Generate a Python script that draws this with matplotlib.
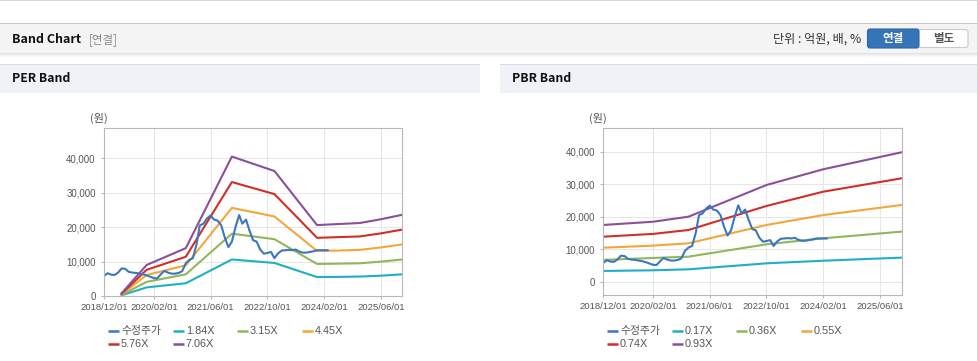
import matplotlib
matplotlib.use('Agg')
import matplotlib.pyplot as plt
from matplotlib.patches import Rectangle, FancyBboxPatch
from matplotlib.ticker import FuncFormatter
import pandas as pd

plt.rcParams['font.family'] = ['Liberation Sans', 'Noto Sans CJK KR']

# ---------------- data ----------------
price_label = '수정주가'
price_start = '2018-12-01'
price_values = [5800, 6600, 6200, 6100, 6800, 8000, 7900, 7000, 6800, 6700,
                6500, 6300, 6000, 5600, 5200, 5100, 6300, 7300, 6800, 6500,
                6500, 6700, 7200, 9500, 10500, 11000, 15000, 20500, 21000, 22500,
                23400, 22200, 21900, 20500, 17000, 14200, 15800, 20000, 23500, 21000,
                22200, 19000, 16200, 15800, 13500, 12300, 12500, 12800, 11000, 12400,
                13200, 13300, 13400, 13300, 13500, 12900, 12600, 12600, 12800, 13000,
                13300, 13300, 13300, 13300]

per_dates = ['2019-05-01', '2019-12-01', '2020-11-01', '2021-12-01', '2022-12-01',
             '2023-12-01', '2024-06-01', '2024-12-01', '2025-06-01', '2025-12-01']
per_labels = ['1.84X', '3.15X', '4.45X', '5.76X', '7.06X']
per_184 = [200, 2500, 3700, 10600, 9600, 5500, 5550, 5650, 5900, 6300]
per_315 = [350, 4100, 6300, 18100, 16500, 9300, 9400, 9500, 10000, 10600]
per_445 = [500, 6100, 8900, 25600, 23100, 13100, 13200, 13400, 14100, 15000]
per_576 = [650, 7600, 11400, 33100, 29600, 16900, 17100, 17300, 18200, 19300]
per_706 = [800, 9000, 13900, 40500, 36300, 20600, 20900, 21200, 22300, 23600]

pbr_dates = ['2018-12-01', '2020-02-01', '2020-12-01', '2022-10-01', '2024-02-01', '2025-12-01']
pbr_labels = ['0.17X', '0.36X', '0.55X', '0.74X', '0.93X']
pbr_017 = [3300, 3500, 3800, 5650, 6450, 7400]
pbr_036 = [6700, 7300, 7700, 11500, 13350, 15400]
pbr_055 = [10450, 11100, 11800, 17450, 20500, 23600]
pbr_074 = [13850, 14700, 15900, 23300, 27700, 31800]
pbr_093 = [17450, 18450, 20000, 29750, 34600, 39800]

x_tick_dates = ['2018-12-01', '2020-02-01', '2021-06-01', '2022-10-01', '2024-02-01', '2025-06-01']
x_tick_labels = ['2018/12/01', '2020/02/01', '2021/06/01', '2022/10/01', '2024/02/01', '2025/06/01']

colors = ['#3b76c0', '#1fb0c4', '#8fb85a', '#f3a73b', '#d22e28', '#8b4f9c']

# ---------------- figure ----------------
W, H = 978, 361
fig = plt.figure(figsize=(W / 100, H / 100), dpi=100)
fig.patch.set_facecolor('white')

bg = fig.add_axes([0, 0, 1, 1], zorder=0)
bg.set_xlim(0, W)
bg.set_ylim(H, 0)
bg.axis('off')

# top line
bg.add_patch(Rectangle((0, 0), W, 1.2, color='#d6d6d6', lw=0))
# header band with shadow
for i, c in enumerate(['#e2e2e2', '#ebebeb', '#f3f3f3', '#fafafa']):
    bg.add_patch(Rectangle((0, 53 + i), W, 1, color=c, lw=0))
bg.add_patch(Rectangle((0, 23), W, 30, color='#f4f4f4', lw=0))
bg.add_patch(Rectangle((0, 22.5), W, 1.2, color='#c8c8c8', lw=0))
bg.text(12, 39.5, 'Band Chart', fontsize=9.0, fontweight='bold', color='#111111',
        va='center', ha='left', family=['Noto Sans CJK KR'])
bg.text(89, 39.5, '[연결]', fontsize=8.3, color='#8a8a8a', va='center', ha='left',
        family=['Noto Sans CJK KR'])
bg.text(861, 39.5, '단위 : 억원, 배, %', fontsize=8.7, color='#333333', va='center', ha='right',
        family=['Noto Sans CJK KR'])
# buttons
bg.add_patch(FancyBboxPatch((868, 29.5), 100, 18, boxstyle='round,pad=0,rounding_size=2.5',
                            fc='white', ec='#c9c9c9', lw=0.8))
bg.add_patch(FancyBboxPatch((867.5, 29), 51.5, 19, boxstyle='round,pad=0,rounding_size=2.5',
                            fc='#3574b6', ec='#2e68a8', lw=0.8))
bg.text(893, 38.5, '연결', fontsize=8.3, fontweight='bold', color='white', va='center', ha='center',
        family=['Noto Sans CJK KR'])
bg.text(943.5, 38.5, '별도', fontsize=8.3, fontweight='bold', color='#555555', va='center', ha='center',
        family=['Noto Sans CJK KR'])

# section headers
for x0, x1, title in [(0, 480, 'PER Band'), (500, 978, 'PBR Band')]:
    bg.add_patch(Rectangle((x0, 64), x1 - x0, 28.5, color='#eff2f7', lw=0))
    bg.add_patch(Rectangle((x0, 63.5), x1 - x0, 1, color='#d8dce2', lw=0))
    bg.text(x0 + 11.5, 79, title, fontsize=8.8, fontweight='bold', color='#111111',
            va='center', ha='left', family=['Noto Sans CJK KR'])


def style_axes(ax, ylim):
    ax.set_facecolor('white')
    for s in ax.spines.values():
        s.set_color('#b8b8b8')
        s.set_linewidth(0.8)
    ax.set_ylim(*ylim)
    ax.set_yticks([t for t in range(0, 50001, 10000) if ylim[0] <= t <= ylim[1]])
    ax.yaxis.set_major_formatter(FuncFormatter(lambda v, p: f'{int(v):,}'))
    ax.set_xticks(pd.to_datetime(x_tick_dates))
    ax.set_xticklabels(x_tick_labels)
    ax.grid(True, color='#e6e6e6', lw=0.7)
    ax.set_axisbelow(True)
    ax.tick_params(axis='y', length=2.5, color='#b8b8b8', pad=3.5, labelsize=6.9, labelcolor='#555555')
    ax.tick_params(axis='x', length=2.5, color='#b8b8b8', pad=2.5, labelsize=6.8, labelcolor='#555555')


price_dates = pd.date_range(price_start, periods=len(price_values), freq='MS')

# PER chart
ax1 = fig.add_axes([104 / W, 1 - 296 / H, 298 / W, 168 / H], zorder=2)
pdates = pd.to_datetime(per_dates)
for vals, c in zip([per_184, per_315, per_445, per_576, per_706], colors[1:]):
    ax1.plot(pdates, vals, color=c, lw=1.5, solid_joinstyle='round')
ax1.plot(price_dates, price_values, color=colors[0], lw=1.5, solid_joinstyle='round')
ax1.set_xlim(pd.Timestamp('2018-12-01'), pd.Timestamp('2025-11-28'))
style_axes(ax1, (0, 48800))

# PBR chart
ax2 = fig.add_axes([603.3 / W, 1 - 295 / H, 298.4 / W, 166.7 / H], zorder=2)
bdates = pd.to_datetime(pbr_dates)
for vals, c in zip([pbr_017, pbr_036, pbr_055, pbr_074, pbr_093], colors[1:]):
    ax2.plot(bdates, vals, color=c, lw=1.5, solid_joinstyle='round')
ax2.plot(price_dates, price_values, color=colors[0], lw=1.5, solid_joinstyle='round')
ax2.set_xlim(pd.Timestamp('2018-12-01'), pd.Timestamp('2025-12-04'))
style_axes(ax2, (-4100, 47200))

# unit labels
bg.text(99, 118, '(원)', fontsize=8, color='#555555', va='center', ha='center', family=['Noto Sans CJK KR'])
bg.text(598, 118, '(원)', fontsize=8, color='#555555', va='center', ha='center', family=['Noto Sans CJK KR'])

# legends (row-major, 4 per row)
col_off = [0, 65, 129, 194]
rows_y = [330.7, 344.2]
for base_x, labels in [(108, [price_label] + per_labels), (607, [price_label] + pbr_labels)]:
    for i, (lab, c) in enumerate(zip(labels, colors)):
        r, k = divmod(i, 4)
        x = base_x + col_off[k]
        y = rows_y[r]
        bg.plot([x, x + 10.5], [y, y], color=c, lw=1.8, solid_capstyle='butt')
        bg.text(x + 13, y, lab, fontsize=7.8, color='#555555', va='center', ha='left',
                family=['Liberation Sans', 'Noto Sans CJK KR'])

fig.savefig('out.png', dpi=100, facecolor='white')
